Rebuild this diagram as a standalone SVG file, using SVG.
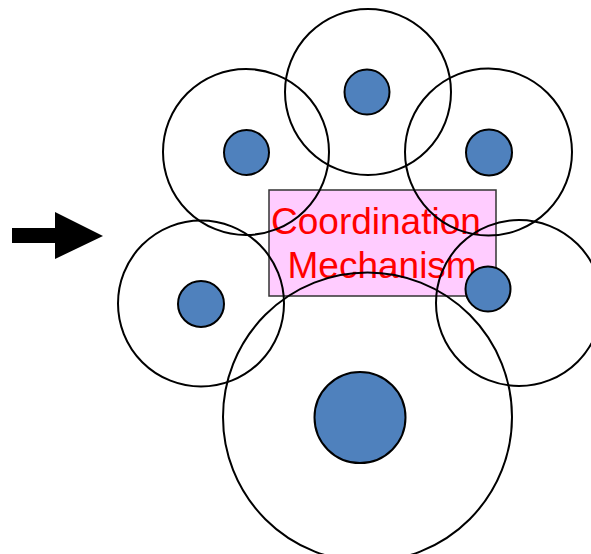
<svg xmlns="http://www.w3.org/2000/svg" width="591" height="554" viewBox="0 0 591 554">
  <style>
    .ring { fill: none; stroke: #000; stroke-width: 2; }
    .core { fill: #4F81BD; stroke: #000; stroke-width: 2; }
    .label { font-family: "Liberation Sans", Arial, sans-serif; font-size: 37px; fill: #FF0000; }
  </style>
  <rect width="591" height="554" fill="#fff"/>

  <!-- input arrow -->
  <g id="arrow">
    <polygon points="12,228 55,228 55,212 103,236 55,259 55,243 12,243" fill="#000"/>
  </g>

  <!-- central coordination box -->
  <g id="coordination">
    <rect x="269" y="190" width="227" height="106" fill="#FFCCFF" stroke="#333" stroke-width="1.5"/>
    <text class="label" x="271" y="234">Coordination</text>
    <text class="label" x="287.5" y="278">Mechanism</text>
  </g>

  <!-- agents: outer range ring and inner core -->
  <g id="agent-top">
    <circle class="ring" cx="368" cy="92" r="83"/>
    <circle class="core" cx="367" cy="92" r="22.5"/>
  </g>
  <g id="agent-upper-left">
    <circle class="ring" cx="246" cy="152" r="83"/>
    <circle class="core" cx="246.5" cy="152.5" r="22.5"/>
  </g>
  <g id="agent-upper-right">
    <circle class="ring" cx="488.5" cy="152" r="83.5"/>
    <circle class="core" cx="489" cy="152.5" r="23"/>
  </g>
  <g id="agent-left">
    <circle class="ring" cx="201" cy="303.5" r="83"/>
    <circle class="core" cx="201" cy="304" r="23"/>
  </g>
  <g id="agent-right">
    <circle class="ring" cx="519" cy="303" r="83"/>
    <circle class="core" cx="488" cy="289" r="22.5"/>
  </g>
  <g id="agent-bottom">
    <circle class="ring" cx="367.5" cy="417" r="144.5"/>
    <circle class="core" cx="360" cy="417.5" r="45.5"/>
  </g>
</svg>
